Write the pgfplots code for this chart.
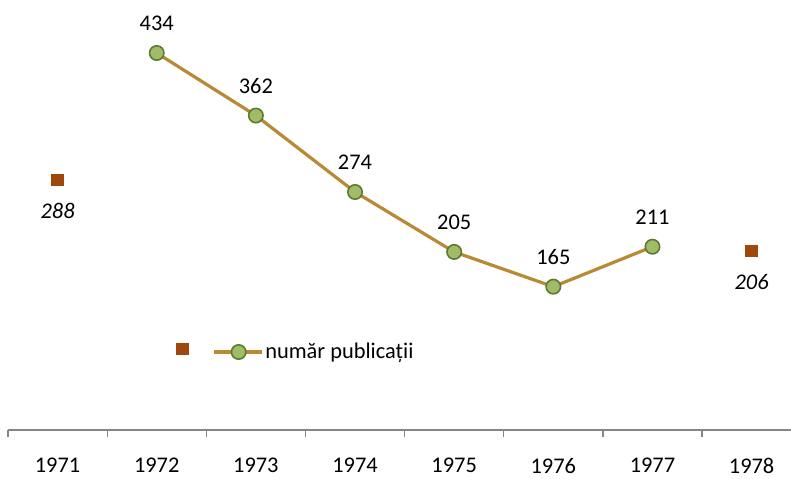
\documentclass[border=0pt]{standalone}
\usepackage{pgfplots}
\pgfplotsset{compat=1.18}
\usepackage{fontspec}
\setmainfont{Carlito}
\definecolor{lineC}{RGB}{185,137,52}
\definecolor{fillC}{RGB}{160,188,104}
\definecolor{edgeC}{RGB}{94,122,48}
\definecolor{sqC}{RGB}{158,72,14}
\definecolor{axC}{RGB}{134,134,134}
\pgfplotsset{/pgf/number format/assume math mode=true,
  sqlegend/.style={legend image code/.code={\draw[##1] plot coordinates {(3pt,1.5pt)};}},
  linelegend/.style={legend image code/.code={\draw[##1,mark=none] (0pt,0pt) -- (24pt,0pt); \draw[##1] plot coordinates {(12.5pt,0pt)};}},
}
\begin{document}
\fontsize{11.2}{13.5}\selectfont
\begin{tikzpicture}
\useasboundingbox (0,0) rectangle (395.5pt,239pt);
\begin{axis}[
  at={(4pt,24pt)}, anchor=south west,
  scale only axis, width=396.6pt, height=215pt,
  xmin=0.5, xmax=8.5, ymin=0, ymax=495,
  axis x line*=bottom, axis y line=none,
  xtick={1,...,8}, xticklabels={1971,1972,1973,1974,1975,1976,1977,1978},
  major tick length=0pt,
  major x tick style={draw=none},
  minor xtick={0.5,1.5,...,8.5},
  minor tick length=3.5pt,
  tick align=outside,
  x axis line style={draw=axC, line width=0.6pt, -},
  every minor tick/.append style={draw=axC, line width=0.6pt},
  xticklabel style={anchor=north, yshift=-10.2pt, text=black},
  clip=false,
  legend style={at={(0.2043,0.1814)}, anchor=west, draw=none, fill=none,
    legend columns=2, column sep=0pt,
    /tikz/every even column/.append style={column sep=10pt},
    nodes={inner xsep=1pt}},
]
\addplot[only marks, mark=square*, mark size=2.9pt,
  mark options={fill=sqC, draw=sqC},
  nodes near coords,
  every node near coord/.append style={font=\itshape, anchor=north, yshift=-7.6pt, text=black},
  sqlegend
  ] coordinates {(1,288) (8,206)};
\addlegendentry{}
\addplot[lineC, line width=1.6pt, mark=*, mark size=3.6pt,
  mark options={fill=fillC, draw=edgeC, line width=0.8pt},
  nodes near coords,
  every node near coord/.append style={anchor=south, yshift=7pt, text=black},
  linelegend
  ] coordinates {(2,434) (3,362) (4,274) (5,205) (6,165) (7,211)};
\addlegendentry{număr publicații}
\end{axis}
\end{tikzpicture}
\end{document}
